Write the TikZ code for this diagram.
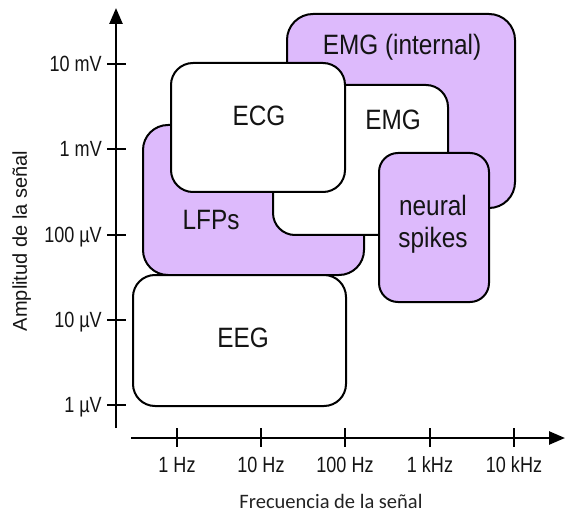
\documentclass[tikz,border=0pt]{standalone}
\usepackage{fontspec}
\setmainfont{Liberation Sans}
\newfontfamily\boxfont[FakeStretch=0.87]{Liberation Sans}
\newfontfamily\tickfont[FakeStretch=0.82]{Liberation Sans}
\newfontfamily\calfont{Carlito}
\usetikzlibrary{arrows.meta}
\definecolor{lav}{RGB}{221,186,252}
\definecolor{txt}{RGB}{20,20,20}
\tikzset{
  region/.style={draw=black, line width=2pt, rounded corners=#1},
  region/.default=22pt,
  purple/.style={fill=lav},
  white/.style={fill=white},
  boxlabel/.style={anchor=base, inner sep=0pt, font=\boxfont\fontsize{28}{32}\selectfont, align=center, text=txt},
  ytick/.style={anchor=base east, inner sep=0pt, font=\tickfont\fontsize{22}{26}\selectfont, text=txt},
  xtick/.style={anchor=base, inner sep=0pt, font=\tickfont\fontsize{22}{26}\selectfont, text=txt},
  axis/.style={line width=2.5pt, -{Triangle[length=16pt,width=13pt]}},
  tickmark/.style={line width=2.5pt}
}
\begin{document}
\begin{tikzpicture}[x=1pt,y=-1pt]
\useasboundingbox (0,0) rectangle (565,513);
% regions (back to front)
\draw[region=26pt, purple] (287,14) rectangle (515,208);
\draw[region=25pt, purple] (143,125) rectangle (364,275);
\draw[region, white] (273,85) rectangle (448,235);
\draw[region, white] (171,63) rectangle (345,192);
\draw[region=19pt, purple] (379,153) rectangle (489,302);
\draw[region, white] (133,275) rectangle (346,406);
% labels
\node[boxlabel] (lint) at (402,55) {EMG (internal)};
\node[boxlabel] (lecg) at (259,126) {ECG};
\node[boxlabel] (lemg) at (393,130) {EMG};
\node[boxlabel] (llfp) at (211,230) {LFPs};
\node[boxlabel, anchor=north] (lspk) at (433,195.5) {neural\\spikes};
\node[boxlabel] (leeg) at (243,347) {EEG};
% axes
\coordinate (yb) at (116,428);
\coordinate (yt) at (116,8);
\coordinate (xl) at (131,438);
\coordinate (xr) at (565,438);
\draw[axis] (yb) -- (yt);
\draw[axis] (xl) -- (xr);
% y ticks
\foreach \yy/\lab/\nm in {64/10 mV/a, 149/1 mV/b, 235/100 µV/c, 320/10 µV/d, 405/1 µV/e}{
  \coordinate (yl\nm) at (107,\yy);
  \coordinate (yr\nm) at (126,\yy);
  \draw[tickmark] (yl\nm) -- (yr\nm);
  \node[ytick] (yt\nm) at (102,\yy+7.5) {\lab};
}
% x ticks
\foreach \xx/\lab/\nm in {177/1 Hz/a, 261/10 Hz/b, 345/100 Hz/c, 430/1 kHz/d, 514/10 kHz/e}{
  \coordinate (xu\nm) at (\xx,428);
  \coordinate (xd\nm) at (\xx,447);
  \draw[tickmark] (xu\nm) -- (xd\nm);
  \node[xtick] (xt\nm) at (\xx,472) {\lab};
}
% axis titles
\node[anchor=base, inner sep=0pt, font=\calfont\fontsize{20.5}{24}\selectfont, text={rgb,255:red,34;green,34;blue,34}] (xtitle) at (331,508) {Frecuencia de la señal};
\node[anchor=base, inner sep=0pt, rotate=90, font=\fontsize{20}{24}\selectfont, text=txt] (ytitle) at (27,241) {Amplitud de la señal};
\end{tikzpicture}
\end{document}
